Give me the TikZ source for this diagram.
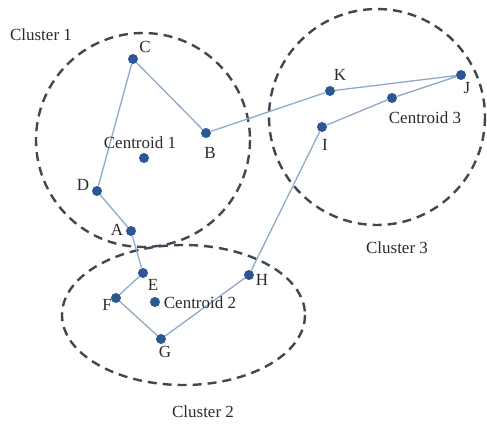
\documentclass[tikz,border=0pt]{standalone}
\usepackage{fontspec}
\setmainfont{Liberation Serif}
\definecolor{dotc}{HTML}{2B5792}
\definecolor{linec}{HTML}{8DA9CC}
\definecolor{dashc}{HTML}{3F4852}
\definecolor{txtc}{HTML}{2A2A2A}
\begin{document}
\begin{tikzpicture}[x=1pt,y=-1pt,
  pt/.style={circle,fill=dotc,inner sep=0pt,minimum size=10pt},
  link/.style={draw=linec,line width=1.3pt},
  clus/.style={draw=dashc,line width=2.4pt,dash pattern=on 9pt off 6pt},
  lbl/.style={text=txtc,font=\fontsize{17}{19}\selectfont,inner sep=0pt}]
\useasboundingbox (0,0) rectangle (487,423);
% clusters
\draw[clus] (143,140) circle (107);
\draw[clus] (377,117) circle (108);
\draw[clus] (183.5,315) ellipse (121.5 and 70);
% points
\node[pt] (C) at (133,59) {};
\node[pt] (B) at (206,133) {};
\node[pt] (D) at (97,191) {};
\node[pt] (A) at (131,231) {};
\node[pt] (C1) at (144,158) {};
\node[pt] (E) at (143,273) {};
\node[pt] (F) at (116,298) {};
\node[pt] (C2) at (155,302) {};
\node[pt] (G) at (161,339) {};
\node[pt] (H) at (249,275) {};
\node[pt] (I) at (322,127) {};
\node[pt] (K) at (330,91) {};
\node[pt] (J) at (461,75) {};
\node[pt] (C3) at (392,98) {};
% links
\draw[link] (B) -- (C) -- (D) -- (A) -- (E) -- (F) -- (G) -- (H) -- (I) -- (C3) -- (J) -- (K) -- (B);
% labels
\node[lbl] (lC1) at (41,35) {Cluster 1};
\node[lbl] (lC3) at (397,248) {Cluster 3};
\node[lbl] (lC2) at (203,412) {Cluster 2};
\node[lbl] (lc1) at (140,143) {Centroid 1};
\node[lbl] (lc2) at (200,303) {Centroid 2};
\node[lbl] (lc3) at (425,118) {Centroid 3};
\node[lbl] (tC) at (145,47) {C};
\node[lbl] (tB) at (210,153) {B};
\node[lbl] (tD) at (83,185) {D};
\node[lbl] (tA) at (117,230) {A};
\node[lbl] (tK) at (340,75) {K};
\node[lbl] (tJ) at (467,88) {J};
\node[lbl] (tI) at (325,145) {I};
\node[lbl] (tE) at (153,285) {E};
\node[lbl] (tF) at (107,305) {F};
\node[lbl] (tG) at (165,352) {G};
\node[lbl] (tH) at (262,280) {H};
\end{tikzpicture}
\end{document}
